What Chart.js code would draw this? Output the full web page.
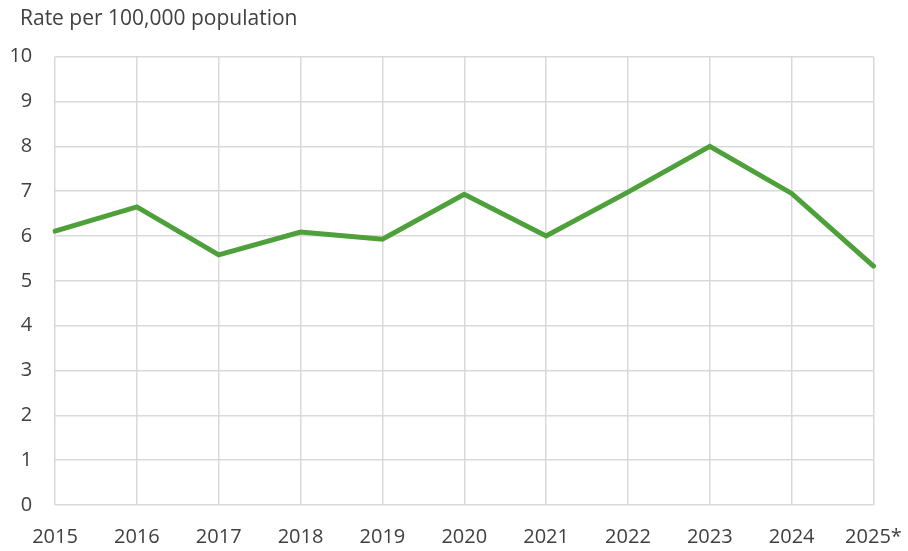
<!DOCTYPE html>
<html>
<head>
<meta charset="utf-8">
<script src="https://cdn.jsdelivr.net/npm/chart.js@4"></script>
<style>
html,body{margin:0;padding:0;background:#fff;}
#wrap{width:908px;height:551px;position:relative;}
</style>
</head>
<body>
<div id="wrap"><canvas id="c" width="908" height="551"></canvas></div>
<script>
const years = ["2015","2016","2017","2018","2019","2020","2021","2022","2023","2024","2025*"];
const rates = [6.11, 6.65, 5.58, 6.09, 5.93, 6.93, 6.0, 6.98, 8.0, 6.95, 5.33];
const axisTitle = "Rate per 100,000 population";

const FONT = "'Open Sans', 'Noto Sans', sans-serif";
const titlePlugin = {
  id: 'topTitle',
  afterDraw(chart) {
    const ctx = chart.ctx;
    ctx.save();
    ctx.font = "21px " + FONT;
    ctx.fillStyle = "#404040";
    ctx.textBaseline = "alphabetic";
    ctx.textAlign = "left";
    ctx.fillText(axisTitle, 20, 25);
    ctx.restore();
  }
};

new Chart(document.getElementById('c'), {
  type: 'line',
  data: {
    labels: years,
    datasets: [{
      data: rates,
      borderColor: '#4ea03a',
      borderWidth: 5,
      pointRadius: 0,
      tension: 0,
      fill: false,
      borderCapStyle: 'round'
    }]
  },
  options: {
    responsive: false,
    animation: false,
    devicePixelRatio: 1,
    layout: { padding: { top: 56.7, right: 34.5, left: 0, bottom: 0 } },
    plugins: { legend: { display: false }, tooltip: { enabled: false } },
    scales: {
      x: {
        offset: false,
        grid: { color: '#d9d9d9', lineWidth: 1.5, drawTicks: false },
        border: { display: false },
        ticks: { color: '#404040', font: { family: FONT, size: 20 }, padding: 20, maxRotation: 0, autoSkip: false },
        afterFit(s) { s.height = 46; s.paddingLeft = 0; s.paddingRight = 0; }
      },
      y: {
        min: 0, max: 10,
        grid: { color: '#d9d9d9', lineWidth: 1.5, drawTicks: false },
        border: { display: false },
        ticks: { stepSize: 1, color: '#404040', font: { family: FONT, size: 20 }, padding: 22.7 },
        afterFit(s) { s.width = 55; s.paddingTop = 0; s.paddingBottom = 0; }
      }
    }
  },
  plugins: [titlePlugin]
});
</script>
</body>
</html>
